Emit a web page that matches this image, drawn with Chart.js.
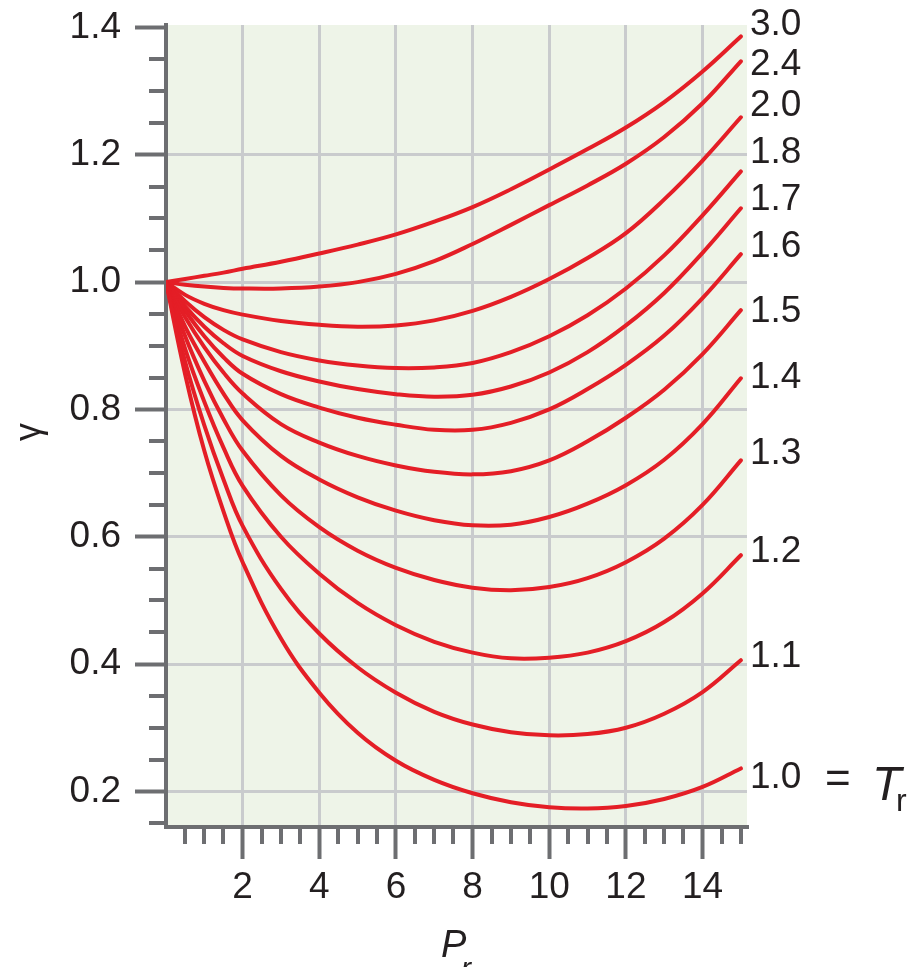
<!DOCTYPE html>
<html>
<head>
<meta charset="utf-8">
<script src="https://cdn.jsdelivr.net/npm/chart.js@4.4.1/dist/chart.umd.min.js"></script>
<style>
  html, body { margin: 0; padding: 0; background: #fff; }
  #wrap { width: 907px; height: 967px; }
</style>
</head>
<body>
<div id="wrap"><canvas id="chart" width="907" height="967"></canvas></div>
<script>
// reduced pressure (x) and one gamma series per reduced temperature
const pr = [0, 0.5, 1, 1.5, 2, 3, 4, 5, 6, 7, 8, 9, 10, 11, 12, 13, 14, 15];
const trLabels = ['1.0', '1.1', '1.2', '1.3', '1.4', '1.5', '1.6', '1.7', '1.8', '2.0', '2.4', '3.0'];
const g10 = [1, 0.855, 0.735, 0.64, 0.56, 0.44, 0.355, 0.292, 0.248, 0.218, 0.197, 0.183, 0.175, 0.173, 0.177, 0.188, 0.207, 0.236];
const g11 = [1, 0.875, 0.775, 0.69, 0.617, 0.518, 0.448, 0.395, 0.355, 0.325, 0.305, 0.293, 0.288, 0.29, 0.3, 0.322, 0.356, 0.406];
const g12 = [1, 0.895, 0.812, 0.74, 0.68, 0.6, 0.542, 0.496, 0.461, 0.435, 0.418, 0.409, 0.41, 0.418, 0.436, 0.466, 0.511, 0.571];
const g13 = [1, 0.915, 0.845, 0.785, 0.735, 0.665, 0.615, 0.578, 0.551, 0.532, 0.52, 0.516, 0.521, 0.535, 0.56, 0.597, 0.65, 0.72];
const g14 = [1, 0.93, 0.875, 0.825, 0.783, 0.727, 0.69, 0.662, 0.641, 0.626, 0.618, 0.619, 0.631, 0.652, 0.681, 0.721, 0.777, 0.849];
const g15 = [1, 0.945, 0.898, 0.858, 0.825, 0.777, 0.748, 0.727, 0.712, 0.702, 0.698, 0.703, 0.72, 0.75, 0.787, 0.831, 0.887, 0.956];
const g16 = [1, 0.955, 0.915, 0.882, 0.856, 0.824, 0.803, 0.787, 0.776, 0.768, 0.768, 0.779, 0.8, 0.832, 0.87, 0.916, 0.975, 1.044];
const g17 = [1, 0.962, 0.93, 0.904, 0.884, 0.86, 0.844, 0.832, 0.824, 0.82, 0.823, 0.836, 0.858, 0.89, 0.932, 0.983, 1.046, 1.116];
const g18 = [1, 0.97, 0.945, 0.925, 0.91, 0.89, 0.877, 0.869, 0.865, 0.866, 0.873, 0.89, 0.915, 0.948, 0.99, 1.042, 1.105, 1.174];
const g20 = [1, 0.98, 0.966, 0.956, 0.949, 0.939, 0.933, 0.93, 0.932, 0.94, 0.955, 0.977, 1.005, 1.038, 1.077, 1.13, 1.191, 1.259];
const g24 = [1, 0.996, 0.993, 0.991, 0.99, 0.99, 0.993, 1.0, 1.013, 1.033, 1.06, 1.09, 1.121, 1.152, 1.186, 1.228, 1.281, 1.347];
const g30 = [1, 1.005, 1.01, 1.015, 1.021, 1.032, 1.045, 1.059, 1.075, 1.095, 1.118, 1.146, 1.177, 1.209, 1.243, 1.283, 1.331, 1.386];
// where each Tr label sits on the gamma axis (right of the curve ends)
const labelGamma = [0.222, 0.411, 0.576, 0.731, 0.849, 0.953, 1.055, 1.130, 1.203, 1.277, 1.342, 1.404];
const xTicks = [2, 4, 6, 8, 10, 12, 14];
const yTicks = [0.2, 0.4, 0.6, 0.8, 1.0, 1.2, 1.4];

const curves = [g10, g11, g12, g13, g14, g15, g16, g17, g18, g20, g24, g30];
const FONT = '"Liberation Sans", Arial, Helvetica, sans-serif';
const AXIS = '#6d6e71';
const GRID = '#c9cbcd';
const TEXT = '#231f20';
const RED = '#e41e26';

const decor = {
  id: 'decor',
  beforeDraw(chart) {
    const a = chart.chartArea, ctx = chart.ctx;
    ctx.save();
    ctx.fillStyle = '#eef4e8';
    ctx.fillRect(a.left, a.top, a.right - a.left, a.bottom - a.top);
    ctx.restore();
  },
  afterDraw(chart) {
    const a = chart.chartArea, ctx = chart.ctx;
    const xs = chart.scales.x, ys = chart.scales.y;
    ctx.save();
    // minor ticks
    ctx.strokeStyle = AXIS;
    ctx.lineWidth = 4;
    ctx.beginPath();
    for (let v = 0.5; v <= 15.01; v += 0.5) {
      if (Math.abs(v % 2) < 0.01) continue;
      const px = Math.round(xs.getPixelForValue(v));
      ctx.moveTo(px, a.bottom);
      ctx.lineTo(px, a.bottom + 17);
    }
    for (let k = 3; k <= 27; k++) {
      if (k % 4 === 0) continue;
      const py = Math.round(ys.getPixelForValue(k * 0.05));
      ctx.moveTo(a.left, py);
      ctx.lineTo(a.left - 17, py);
    }
    ctx.stroke();

    // Tr labels
    ctx.fillStyle = TEXT;
    ctx.font = '37px ' + FONT;
    ctx.textAlign = 'left';
    ctx.textBaseline = 'middle';
    trLabels.forEach((t, i) => {
      ctx.fillText(t, a.right + 3, ys.getPixelForValue(labelGamma[i]));
    });

    // "= Tr"
    const yEq = ys.getPixelForValue(labelGamma[0]);
    ctx.textBaseline = 'alphabetic';
    ctx.font = '44px ' + FONT;
    ctx.fillText('=', 825, yEq + 16);
    ctx.font = 'italic 48px ' + FONT;
    ctx.fillText('T', 872, yEq + 23);
    ctx.font = '32px ' + FONT;
    ctx.fillText('r', 896, yEq + 34);

    // x title P_r
    ctx.font = 'italic 38px ' + FONT;
    ctx.fillText('P', 441, 957);
    ctx.font = 'italic 30px ' + FONT;
    ctx.fillText('r', 461, 978);

    // y title gamma
    ctx.translate(40, 432);
    ctx.rotate(-Math.PI / 2);
    ctx.font = '36px ' + FONT;
    ctx.textAlign = 'center';
    ctx.fillText('γ', 0, 0);
    ctx.restore();
  }
};

new Chart(document.getElementById('chart'), {
  type: 'line',
  data: {
    datasets: curves.map((g, i) => ({
      label: trLabels[i],
      data: pr.map((x, j) => ({ x: x, y: g[j] })),
      borderColor: RED,
      borderWidth: 4,
      borderCapStyle: 'round',
      pointRadius: 0,
      fill: false,
      tension: 0.4
    }))
  },
  options: {
    responsive: false,
    animation: false,
    layout: { padding: { left: 0, right: 160, top: 25, bottom: 0 } },
    plugins: { legend: { display: false }, tooltip: { enabled: false } },
    scales: {
      x: {
        type: 'linear', min: 0, max: 15.16,
        afterBuildTicks: s => { s.ticks = xTicks.map(v => ({ value: v })); },
        afterFit: s => { s.height = 140; s.paddingLeft = 0; s.paddingRight = 0; },
        grid: { color: GRID, lineWidth: 3, tickColor: AXIS, tickWidth: 4, tickLength: 32 },
        border: { color: AXIS, width: 4 },
        ticks: { font: { family: FONT, size: 37 }, color: TEXT, padding: 7, maxRotation: 0, callback: v => String(v) }
      },
      y: {
        type: 'linear', min: 0.144, max: 1.404,
        afterBuildTicks: s => { s.ticks = yTicks.map(v => ({ value: v })); },
        afterFit: s => { s.width = 166; s.paddingTop = 0; s.paddingBottom = 0; },
        grid: {
          color: c => (c.tick && c.tick.value > 1.3) ? 'rgba(0,0,0,0)' : GRID,
          lineWidth: 3, tickColor: AXIS, tickWidth: 4, tickLength: 31
        },
        border: { color: AXIS, width: 4 },
        ticks: { font: { family: FONT, size: 37 }, color: TEXT, padding: 14, callback: v => v.toFixed(1) }
      }
    }
  },
  plugins: [decor]
});
</script>
</body>
</html>
